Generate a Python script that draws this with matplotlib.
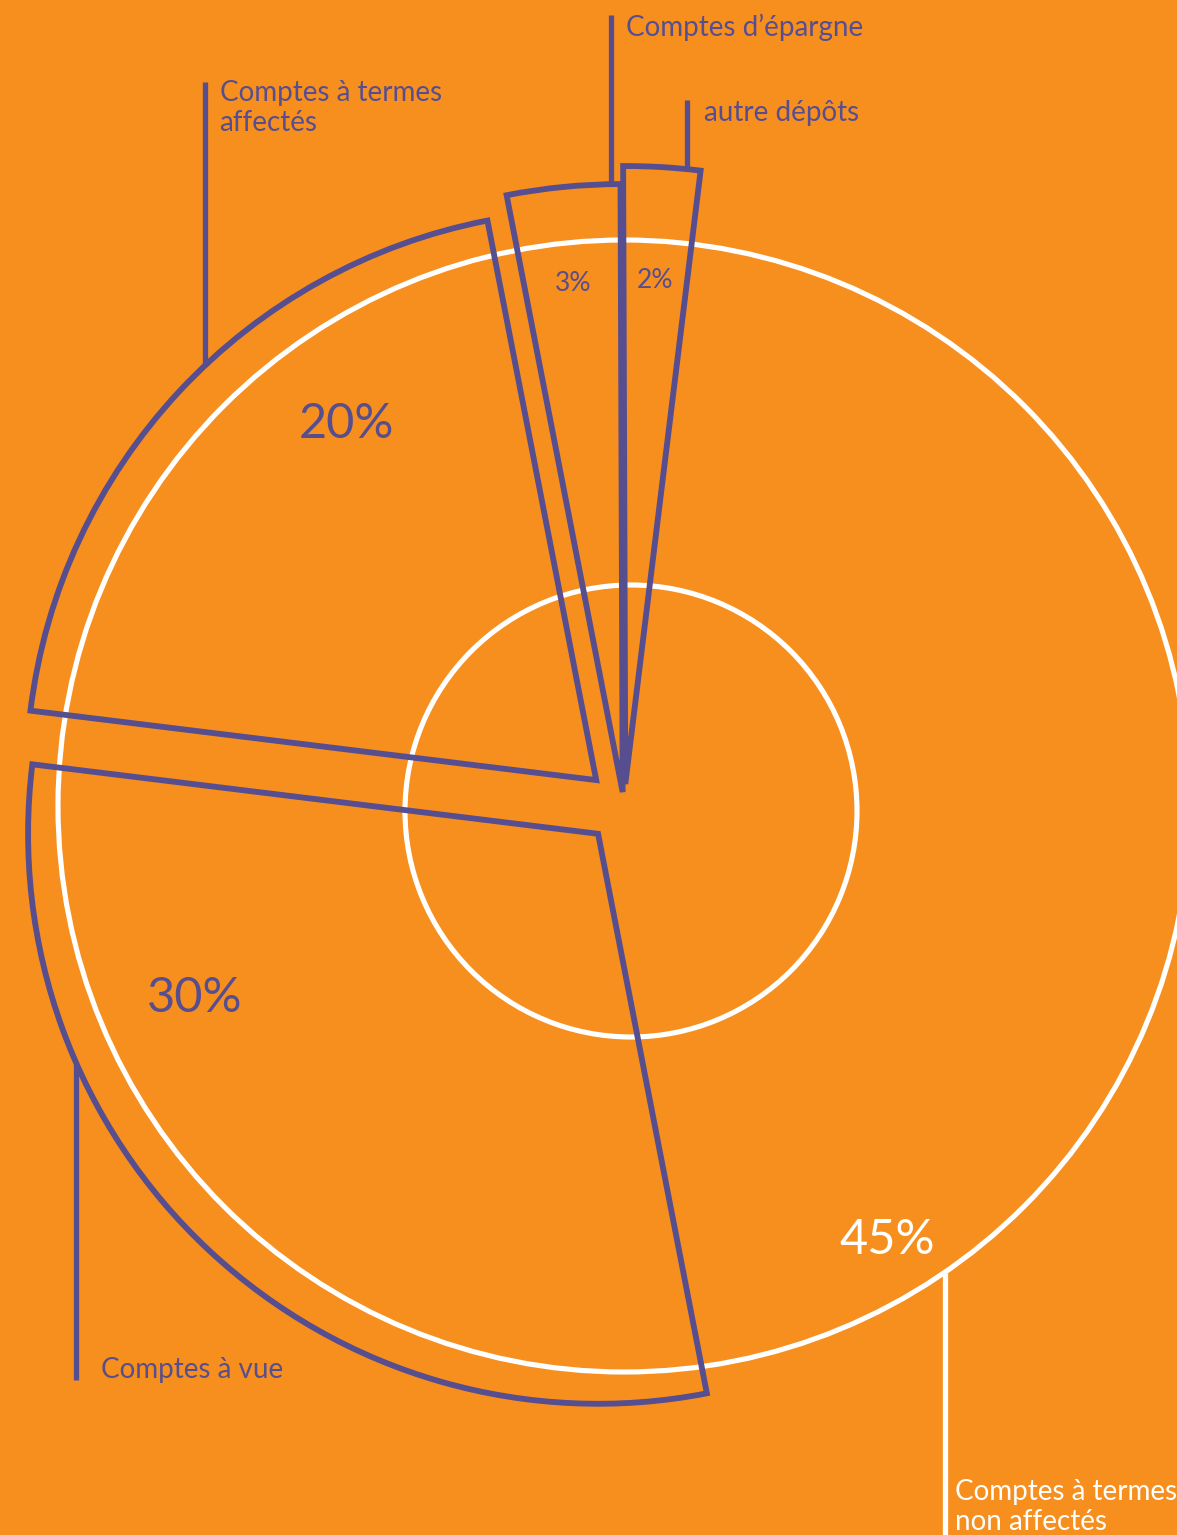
import matplotlib
matplotlib.use("Agg")
import matplotlib.pyplot as plt
import numpy as np
from matplotlib.patches import Circle

# ---------------- data ----------------
categories = ["autre dépôts", "Comptes d’épargne", "Comptes à termes\naffectés",
              "Comptes à vue", "Comptes à termes\nnon affectés"]
shares = [2, 3, 20, 30, 45]
pct_labels = [f"{v}%" for v in shares]

# ---------------- style ----------------
ORANGE = "#F78F1E"
PURPLE = "#574E8F"
WHITE = "#FFFFFF"
FONT = ["Lato", "DejaVu Sans"]
plt.rcParams["font.family"] = FONT

W, H = 1177, 1535
fig = plt.figure(figsize=(W / 100, H / 100), dpi=100, facecolor=ORANGE)
ax = fig.add_axes([0, 0, 1, 1])
ax.set_facecolor(ORANGE)

cx, cy = 624, H - 806
R = 570
explode_px = [22, 14, 38, 38, 0]   # offset of each slice (drawing units)
wedges, _ = ax.pie(shares, explode=explode_px, startangle=83, counterclock=True,
                   radius=R, center=(cx, cy),
                   wedgeprops=dict(fill=False, linewidth=4.2, edgecolor=PURPLE,
                                   joinstyle="miter", zorder=3))
# the largest share is shown by the white ring only
wedges[4].set_edgecolor("none")
# the two small slices are drawn longer
wedges[0].set_radius(618)
wedges[1].set_radius(608)

ax.set_xlim(0, W)
ax.set_ylim(0, H)
ax.set_aspect("equal")
ax.axis("off")

# white ring (whole) and inner hole
ax.add_patch(Circle((cx, cy), 566, fill=False, ec=WHITE, lw=3.7, zorder=2))
ax.add_patch(Circle((cx + 7, cy - 5), 226, fill=False, ec=WHITE, lw=3.7, zorder=2))


def polar(w, frac, r):
    a = np.deg2rad(w.theta1 + frac * (w.theta2 - w.theta1))
    return w.center[0] + r * np.cos(a), w.center[1] + r * np.sin(a)


# percent labels: (frac along slice, distance from slice apex, size, color)
pct_style = [(0.5, 504, 19, PURPLE), (0.5, 511, 19, PURPLE), (0.335, 435, 35, PURPLE),
             (0.27, 436, 35, PURPLE), (0.125, 508, 35, WHITE)]
for w, txt, (fr, d, fs, col) in zip(wedges, pct_labels, pct_style):
    x, y = polar(w, fr, d)
    ax.text(x, y, txt, ha="center", va="center", fontsize=fs, color=col, zorder=4)

# leader lines & category labels
# (frac along arc, arc radius or None, label end y (img), text dx, va, color, text y (img))
lead_style = [
    (0.18, None, 100, 17, "top", PURPLE, 100),
    (0.08, None, 15, 15, "top", PURPLE, 14),
    (0.45, None, 82, 15, "top", PURPLE, 80),
    (0.285, None, 1380, 25, "baseline", PURPLE, 1378),
    (0.145, 566, 1535, 10, "baseline", WHITE, 1530),
]
for w, name, (fr, rr, yend, dx, va, col, ty) in zip(wedges, categories, lead_style):
    r = w.r if rr is None else rr
    x, y = polar(w, fr, r)
    ax.plot([x, x], [y, H - yend], color=col, lw=3.8, solid_capstyle="butt", zorder=4)
    ax.text(x + dx, H - ty, name, ha="left", va=va, fontsize=20, color=col,
            linespacing=1.2, zorder=4)

fig.savefig("out.png", dpi=100, facecolor=ORANGE)
